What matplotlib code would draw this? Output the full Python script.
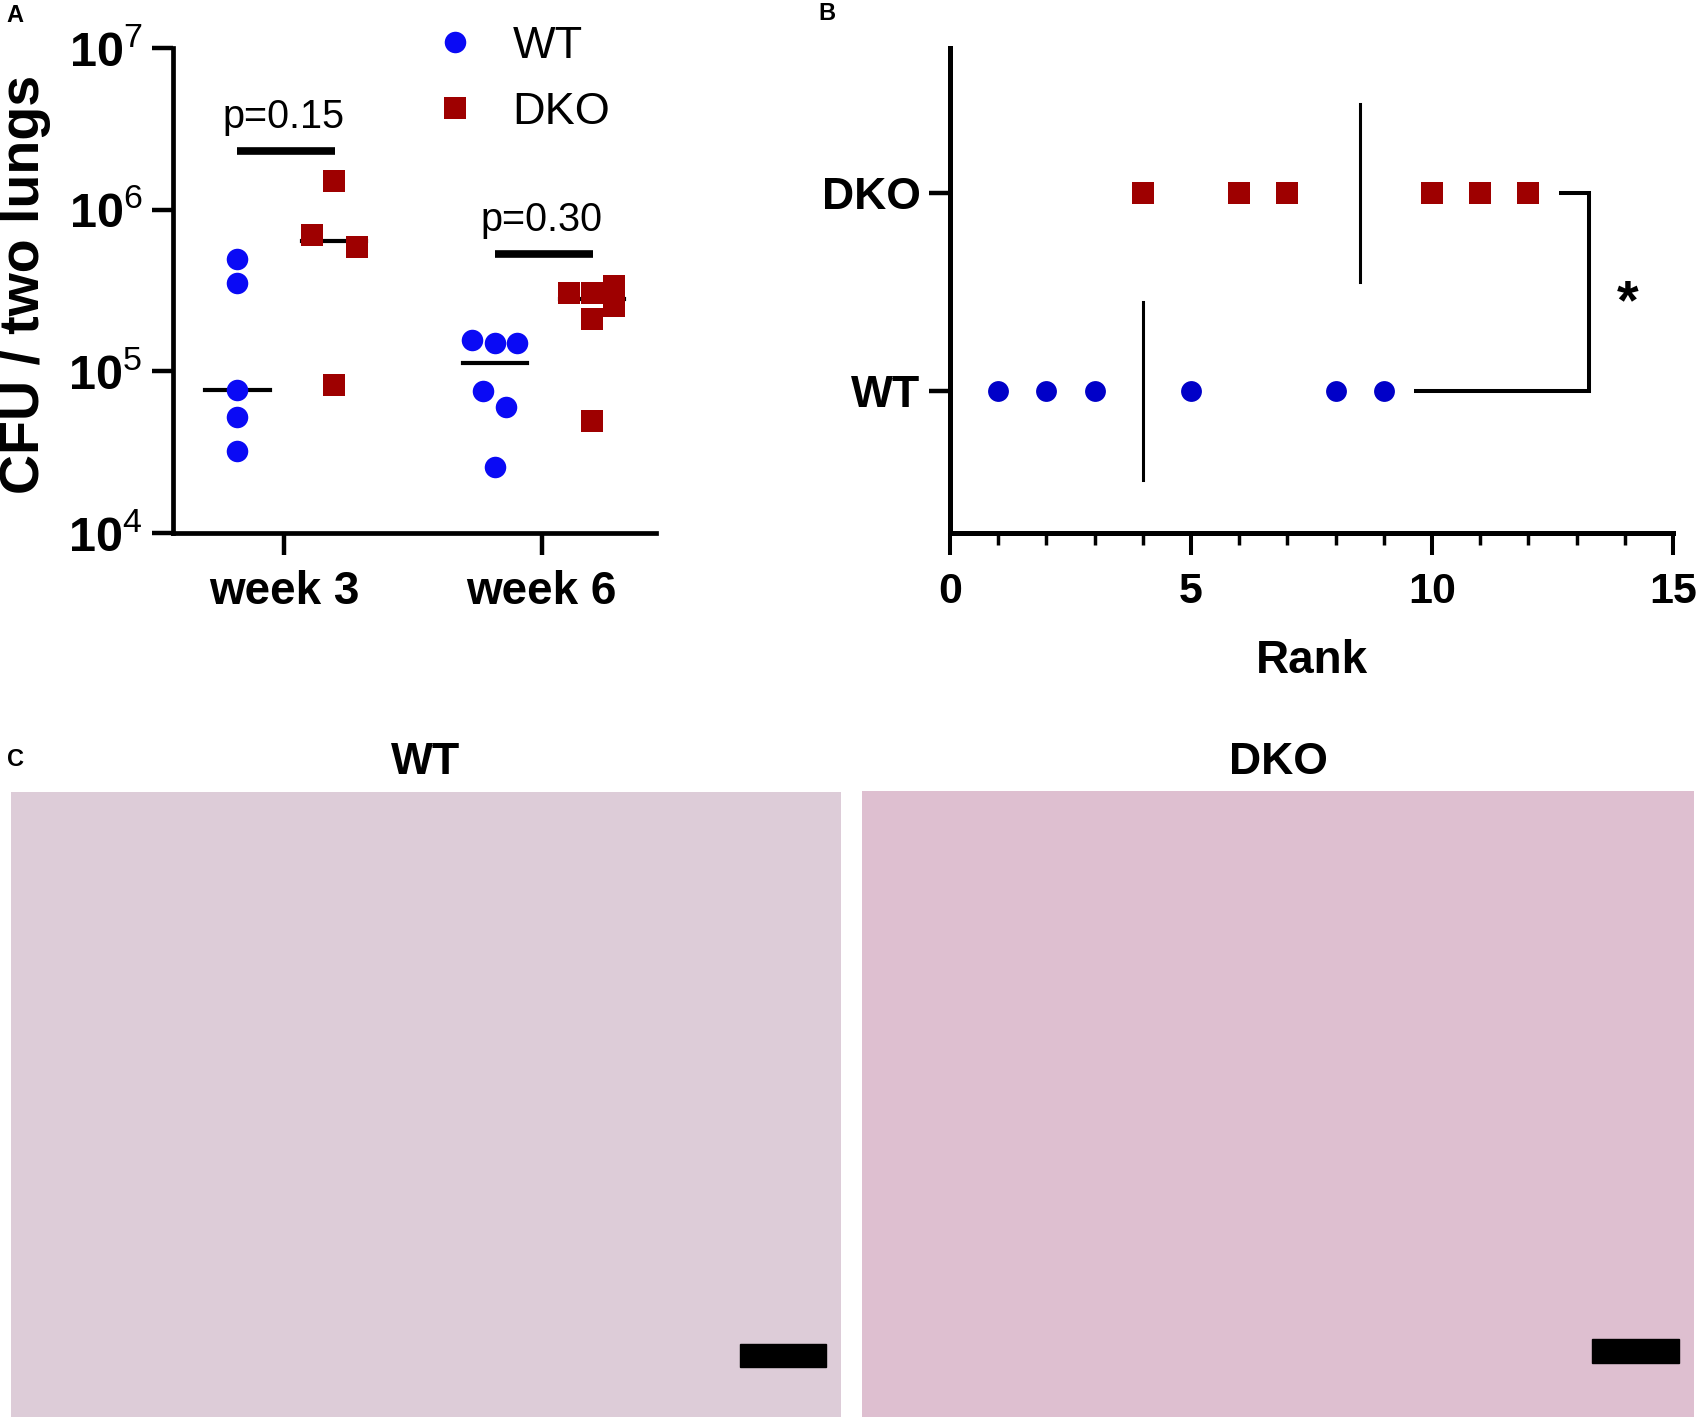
import matplotlib
matplotlib.use('Agg')
import matplotlib.pyplot as plt
from matplotlib.lines import Line2D
from matplotlib.patches import Rectangle
from matplotlib.ticker import NullLocator
import numpy as np

plt.rcParams['font.family'] = ['Liberation Sans', 'DejaVu Sans']
plt.rcParams['mathtext.fontset'] = 'custom'
plt.rcParams['mathtext.rm'] = 'Liberation Sans'
plt.rcParams['mathtext.bf'] = 'Liberation Sans:bold'

# ---- panel A data: CFU / two lungs ----
weeks = ['week 3', 'week 6']
wt_cfu = [[4.95e5, 3.5e5, 7.6e4, 5.2e4, 3.2e4],
          [1.57e5, 1.49e5, 1.49e5, 7.5e4, 6.0e4, 2.57e4]]
wt_dx = [[0, 0, 0, 0, 0],
         [-0.088, 0, 0.085, -0.046, 0.042, 0]]
dko_cfu = [[1.51e6, 6.98e5, 5.86e5, 8.25e4],
           [3.06e5, 3.06e5, 3.37e5, 2.54e5, 2.10e5, 4.94e4]]
dko_dx = [[0, -0.086, 0.087, 0],
          [-0.088, 0, 0.087, 0.087, 0, 0]]
p_text = ['p=0.15', 'p=0.30']
p_bar_y = [2.31e6, 5.32e5]
p_text_y = [3.2e6, 7.41e5]
y_ticks_a = [1e4, 1e5, 1e6, 1e7]
y_ticklabels_a = [r'$\mathbf{10}^{\mathrm{4}}$', r'$\mathbf{10}^{\mathrm{5}}$',
                  r'$\mathbf{10}^{\mathrm{6}}$', r'$\mathbf{10}^{\mathrm{7}}$']

# ---- panel B data: ranks ----
groups_b = ['WT', 'DKO']
wt_rank = [1, 2, 3, 5, 8, 9]
dko_rank = [4, 6, 7, 10, 11, 12]

# ---- panel C ----
img_titles = ['WT', 'DKO']
img_colors = ['#DDCCD8', '#DEBFD0']

wt_col_a = '#0A0AF5'
wt_col_b = '#0000C8'
dko_col = '#9E0000'

W, H = 1701, 1417
fig = plt.figure(figsize=(W / 100, H / 100), dpi=100)

# ================= panel A =================
axA = fig.add_axes([0.1016, 0.624, 0.2843, 0.3421])
wt_off, dko_off = -0.18, 0.195
for i in range(len(weeks)):
    xc = i + 1
    axA.plot(xc + wt_off + np.array(wt_dx[i]), wt_cfu[i], 'o', color=wt_col_a,
             ms=15.5, mew=0, zorder=3, clip_on=False)
    axA.plot(xc + dko_off + np.array(dko_dx[i]), dko_cfu[i], 's', color=dko_col,
             ms=15.5, mew=0, zorder=3, clip_on=False)
    for off, vals in ((wt_off, wt_cfu[i]), (dko_off, dko_cfu[i])):
        m = np.median(vals)
        axA.plot([xc + off - 0.125, xc + off + 0.125], [m, m], color='k', lw=3, zorder=2)
    axA.plot([xc - 0.18, xc + 0.2], [p_bar_y[i], p_bar_y[i]], color='k', lw=5.5,
             solid_capstyle='butt')
    axA.text(xc, p_text_y[i], p_text[i], ha='center', va='baseline', fontsize=28.5)

axA.set_yscale('log')
axA.set_ylim(1e4, 1e7)
axA.set_xlim(0.569, 2.446)
axA.set_yticks(y_ticks_a)
axA.set_yticklabels(y_ticklabels_a)
axA.yaxis.set_minor_locator(NullLocator())
axA.set_xticks([1, 2])
axA.set_xticklabels(weeks, fontweight='bold')
axA.tick_params(axis='y', length=14.8, width=3.2, pad=7, labelsize=35)
axA.tick_params(axis='x', length=16, width=3.2, pad=11, labelsize=33)
for s in ['top', 'right']:
    axA.spines[s].set_visible(False)
for s in ['left', 'bottom']:
    axA.spines[s].set_linewidth(3.4)

handles = [Line2D([], [], ls='', marker='o', color=wt_col_a, ms=15.5, mew=0),
           Line2D([], [], ls='', marker='s', color=dko_col, ms=15.5, mew=0)]
axA.legend(handles, ['WT', 'DKO'], loc='upper left', bbox_to_anchor=(0.536, 1.046),
           frameon=False, fontsize=32.5, borderpad=0, borderaxespad=0,
           handlelength=1.0, handletextpad=0.78, labelspacing=0.55)

fig.text(25 / W, 1 - 284 / H, 'CFU / two lungs', rotation=90, ha='center', va='center',
         fontsize=40, fontweight='bold')

# ================= panel B =================
axB = fig.add_axes([0.5585, 0.6241, 0.425, 0.342])
axB.plot(wt_rank, [1] * len(wt_rank), 'o', color=wt_col_b, ms=15, mew=0, zorder=3)
axB.plot(dko_rank, [2] * len(dko_rank), 's', color=dko_col, ms=15.5, mew=0, zorder=3)
axB.plot([np.median(wt_rank)] * 2, [0.55, 1.45], color='k', lw=2.2)
axB.plot([np.median(dko_rank)] * 2, [1.55, 2.45], color='k', lw=2.2)
axB.plot([12.63, 13.26, 13.26, 9.62], [2, 2, 1, 1], color='k', lw=2.9,
         solid_joinstyle='miter', solid_capstyle='butt')
axB.text(14.05, 1.44, '*', fontsize=40, fontweight='bold', ha='center', va='center')

axB.set_xlim(0, 15)
axB.set_ylim(0.285, 2.732)
axB.set_xticks([0, 5, 10, 15])
axB.set_xticks(range(16), minor=True)
axB.set_yticks([1, 2])
axB.set_yticklabels(groups_b, fontweight='bold')
for lab in axB.get_xticklabels():
    lab.set_fontweight('bold')
axB.tick_params(axis='x', which='major', length=16, width=2.9, pad=12, labelsize=31)
axB.tick_params(axis='x', which='minor', length=8.6, width=2.5)
axB.tick_params(axis='y', length=14.8, width=3.2, pad=6.5, labelsize=32)
axB.set_xlabel('Rank', fontsize=33, fontweight='bold', labelpad=20)
for s in ['top', 'right']:
    axB.spines[s].set_visible(False)
for s in ['left', 'bottom']:
    axB.spines[s].set_linewidth(3.6)

# ================= panel C =================
img_boxes = [[10.8 / W, 0, 829.8 / W, 625 / H], [862 / W, 0, 832 / W, 626 / H]]
bar_boxes = [(0.879, 0.0805, 0.103, 0.036), (0.877, 0.0863, 0.105, 0.038)]
title_x = [426 / W, 1278 / W]
for box, col, bar, title, tx in zip(img_boxes, img_colors, bar_boxes, img_titles, title_x):
    ax = fig.add_axes(box)
    ax.set_facecolor(col)
    ax.set_xticks([])
    ax.set_yticks([])
    for s in ax.spines.values():
        s.set_visible(False)
    ax.add_patch(Rectangle(bar[:2], bar[2], bar[3], transform=ax.transAxes,
                           color='black'))
    fig.text(tx, 1 - 762 / H, title, ha='center', va='center', fontsize=32,
             fontweight='bold')

# panel letters
fig.text(15 / W, 1 - 15 / H, 'A', fontsize=17, fontweight='bold', ha='center', va='center')
fig.text(827 / W, 1 - 14 / H, 'B', fontsize=17, fontweight='bold', ha='center', va='center')
fig.text(15 / W, 1 - 759 / H, 'C', fontsize=17, fontweight='bold', ha='center', va='center')

fig.savefig('out.png', dpi=100)
